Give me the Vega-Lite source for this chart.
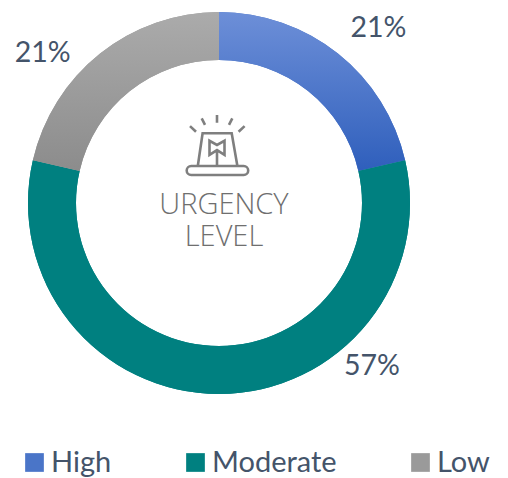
{"$schema":"https://vega.github.io/schema/vega-lite/v6.json","width":438,"height":406,"autosize":{"type":"none"},"padding":{"left":0,"top":0,"right":70,"bottom":72},"background":"white","config":{"view":{"stroke":null}},"data":{"values":[{"level":"High","value":21.4,"label":"21%","rank":1},{"level":"Moderate","value":57.2,"label":"57%","rank":2},{"level":"Low","value":21.4,"label":"21%","rank":3}]},"encoding":{"theta":{"field":"value","type":"quantitative","stack":true,"scale":{"domain":[0,100]}},"order":{"field":"rank","type":"ordinal"}},"layer":[{"mark":{"type":"arc","outerRadius":191,"innerRadius":143,"stroke":null},"encoding":{"color":{"field":"level","type":"nominal","scale":{"domain":["High","Moderate","Low"],"range":["#4a75c8","#008080","#9a9a9a"]},"legend":{"title":null,"orient":"none","legendX":20,"legendY":448,"direction":"horizontal","columns":3,"gridAlign":"none","columnPadding":69,"symbolType":"square","symbolSize":350,"symbolStrokeWidth":0,"symbolOpacity":1,"labelFont":"Lato","labelFontSize":29,"labelColor":"#44546a","labelOffset":2,"labelLimit":300}}}},{"mark":{"type":"arc","outerRadius":191,"innerRadius":143,"stroke":null},"encoding":{"color":{"condition":[{"test":"datum.level==='High'","value":{"gradient":"linear","x1":0,"y1":0,"x2":0,"y2":1,"stops":[{"offset":0,"color":"#6d8fd8"},{"offset":1,"color":"#2f5fbc"}]}},{"test":"datum.level==='Low'","value":{"gradient":"linear","x1":0,"y1":0,"x2":0,"y2":1,"stops":[{"offset":0,"color":"#ababab"},{"offset":1,"color":"#8c8c8c"}]}}],"value":"#008080"},"detail":{"field":"level"}}},{"mark":{"type":"text","radius":235,"dx":13,"dy":9,"font":"Lato","fontSize":28.5,"color":"#44546a"},"encoding":{"detail":{"field":"level"},"text":{"condition":{"test":"datum.level==='High'","field":"label"},"value":""}}},{"mark":{"type":"text","radius":163,"dx":153,"dy":0,"font":"Lato","fontSize":28.5,"color":"#44546a"},"encoding":{"detail":{"field":"level"},"text":{"condition":{"test":"datum.level==='Moderate'","field":"label"},"value":""}}},{"mark":{"type":"text","radius":235,"dx":-30,"dy":34,"font":"Lato","fontSize":28.5,"color":"#44546a"},"encoding":{"detail":{"field":"level"},"text":{"condition":{"test":"datum.level==='Low'","field":"label"},"value":""}}},{"data":{"values":[{"title":["URGENCY","LEVEL"]}]},"mark":{"type":"text","font":"Open Sans","fontWeight":300,"fontSize":29,"lineHeight":32,"color":"#6f6f6f","align":"center","baseline":"middle","dy":2,"dx":5},"encoding":{"theta":null,"order":null,"text":{"field":"title"}}},{"data":{"values":[{"icon":"alarm"}]},"mark":{"type":"point","filled":false,"size":3600,"stroke":"#7f7f7f","strokeWidth":2.6,"opacity":1,"xOffset":-2,"yOffset":-58,"shape":"M-0.86 0.7H0.89A0.15 0.15 0 0 1 0.89 1H-0.86A0.15 0.15 0 0 1 -0.86 0.7ZM-0.64 0.7L-0.48 -0.39H0.49L0.68 0.7M0 -1V-0.74M-0.51 -0.89L-0.4 -0.67M0.51 -0.89L0.4 -0.67M-0.9 -0.63L-0.7 -0.44M0.92 -0.63L0.72 -0.44M-0.25 -0.14V0.33L0 0.17L0.25 0.33V-0.14L0 0ZM0 0.17V0.7"},"encoding":{"theta":null,"order":null}}]}
